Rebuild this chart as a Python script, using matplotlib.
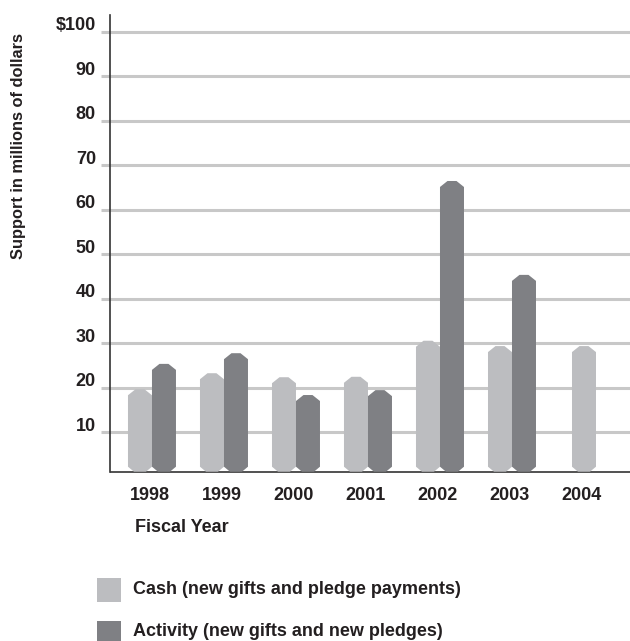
import matplotlib
matplotlib.use("Agg")
import matplotlib.pyplot as plt
from matplotlib.patches import Polygon, Rectangle
from matplotlib.transforms import ScaledTranslation

years = ["1998", "1999", "2000", "2001", "2002", "2003", "2004"]
cash = [19.7, 23.3, 22.4, 22.5, 30.6, 29.4, 29.4]
activity = [25.4, 27.8, 18.4, 19.5, 66.5, 45.4, None]
yticks = [10, 20, 30, 40, 50, 60, 70, 80, 90, 100]
ytick_labels = ["10", "20", "30", "40", "50", "60", "70", "80", "90", "$100"]
legend_labels = ["Cash (new gifts and pledge payments)",
                 "Activity (new gifts and new pledges)"]

CASH_C = "#bcbdc0"
ACT_C = "#7f8084"
GRID_C = "#c8c8c8"
TEXT_C = "#231f20"
FONT = ["Liberation Sans", "DejaVu Sans"]
FS = 13

W, H, DPI = 630, 641, 100
fig = plt.figure(figsize=(W / DPI, H / DPI), dpi=DPI)
ax_l, ax_r, ax_t, ax_b = 110.5, 630, 15, 471.7
ax = fig.add_axes([ax_l / W, 1 - ax_b / H, (ax_r - ax_l) / W, (ax_b - ax_t) / H])

xlim = (-0.576, 6.639)
ylim = (1.17, 103.8)
ax.set_xlim(*xlim)
ax.set_ylim(*ylim)

px_x = (xlim[1] - xlim[0]) / (ax_r - ax_l)
px_y = (ylim[1] - ylim[0]) / (ax_b - ax_t)

# gridlines + tick stubs
ax.set_yticks(yticks)
ax.set_yticklabels([])
ax.yaxis.grid(True, color=GRID_C, linewidth=2.2)
ax.set_axisbelow(True)
ax.tick_params(axis="y", direction="out", length=6.5, width=2.2, color=GRID_C)
ax.set_xticks([])
for s in ["top", "right"]:
    ax.spines[s].set_visible(False)
for s in ["left", "bottom"]:
    ax.spines[s].set_color("#333333")
    ax.spines[s].set_linewidth(1.2)

bw = 24 * px_x
ch_x, ch_y = 7.5 * px_x, 6 * px_y
cb_x, cb_y = 6 * px_x, 5 * px_y


def draw_bar(xc, val, color):
    x0, x1 = xc - bw / 2, xc + bw / 2
    b = ylim[0]
    pts = [(x0, b + cb_y), (x0 + cb_x, b), (x1 - cb_x, b), (x1, b + cb_y),
           (x1, val - ch_y), (x1 - ch_x, val), (x0 + ch_x, val), (x0, val - ch_y)]
    ax.add_patch(Polygon(pts, closed=True, facecolor=color, edgecolor="none",
                         zorder=3, clip_on=False))


for i, (c, a) in enumerate(zip(cash, activity)):
    if a is None:
        draw_bar(i, c, CASH_C)
    else:
        draw_bar(i - bw / 2, c, CASH_C)
        draw_bar(i + bw / 2, a, ACT_C)

# x labels
xtr = ax.get_xaxis_transform() + ScaledTranslation(0, -24 / DPI, fig.dpi_scale_trans)
for i, y in enumerate(years):
    ax.text(i - 0.03, 0, y, transform=xtr, ha="center", va="center",
            fontsize=FS, fontweight="bold", family=FONT, color=TEXT_C)

# y labels
ytr = ax.get_yaxis_transform() + ScaledTranslation(-14.5 / DPI, 6 / DPI, fig.dpi_scale_trans)
for v, lab in zip(yticks, ytick_labels):
    ax.text(0, v, lab, transform=ytr, ha="right", va="center",
            fontsize=FS, fontweight="bold", family=FONT, color=TEXT_C)

fig.text(19 / W, 1 - 146 / H, "Support in millions of dollars", rotation=90,
         ha="center", va="center", fontsize=11.8, fontweight="bold",
         family=FONT, color=TEXT_C)

fig.text(135 / W, 1 - 527 / H, "Fiscal Year", ha="left", va="center",
         fontsize=FS, fontweight="bold", family=FONT, color=TEXT_C)

# legend
for k, (lab, col) in enumerate(zip(legend_labels, [CASH_C, ACT_C])):
    yc = 590 + 43 * k
    fig.add_artist(Rectangle((97 / W, 1 - (yc + 12) / H), 24 / W, 24 / H,
                             transform=fig.transFigure, facecolor=col,
                             edgecolor="none"))
    fig.text(133 / W, 1 - (yc - 1) / H, lab, ha="left", va="center",
             fontsize=FS, fontweight="bold", family=FONT, color=TEXT_C)

fig.savefig("out.png", dpi=DPI)
